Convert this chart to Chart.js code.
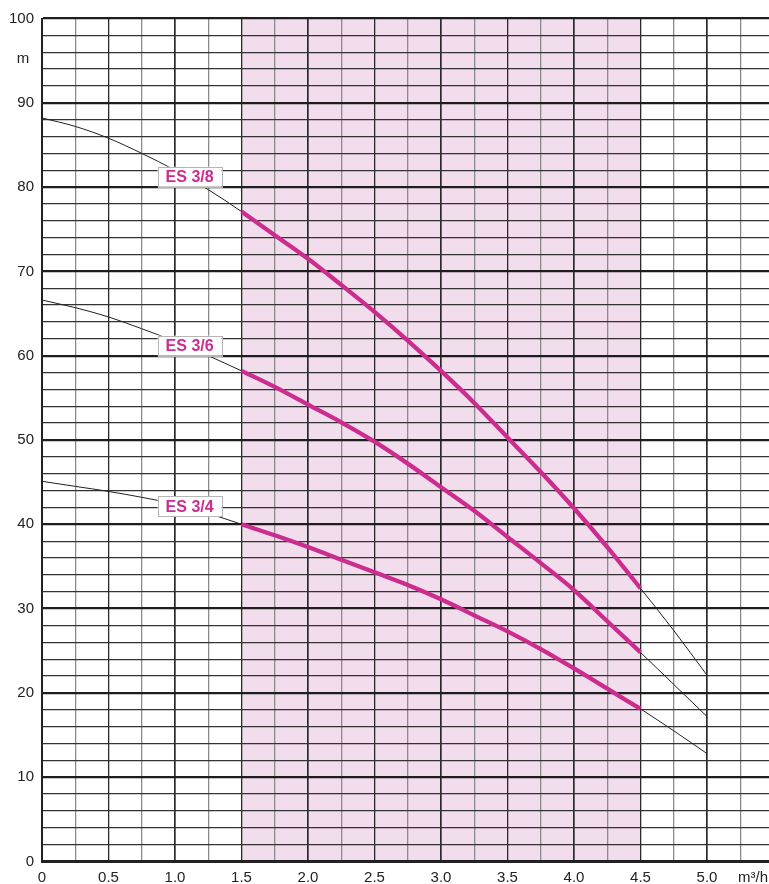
<!DOCTYPE html>
<html>
<head>
<meta charset="utf-8">
<script src="https://cdn.jsdelivr.net/npm/chart.js@4.4.1/dist/chart.umd.min.js"></script>
<style>
  html, body { margin: 0; padding: 0; background: #fff; }
  #wrap { width: 769px; height: 884px; position: relative; }
</style>
</head>
<body>
<div id="wrap"><canvas id="pumpChart"></canvas></div>
<script>
// flow (m3/h) and head (m)
const flowRates = [0, 0.25, 0.5, 0.75, 1.0, 1.25, 1.5, 1.75, 2.0, 2.25, 2.5, 2.75, 3.0, 3.25, 3.5, 3.75, 4.0, 4.25, 4.5, 4.75, 5.0];
const headES34 = [45.1, 44.5, 43.9, 43.2, 42.4, 41.3, 40.0, 38.7, 37.3, 35.8, 34.3, 32.8, 31.1, 29.2, 27.3, 25.2, 22.9, 20.5, 18.1, 15.5, 12.8];
const headES36 = [66.6, 65.7, 64.6, 63.2, 61.7, 60.0, 58.2, 56.3, 54.2, 52.1, 49.8, 47.2, 44.4, 41.6, 38.5, 35.4, 32.2, 28.5, 24.8, 21.0, 17.2];
const headES38 = [88.2, 87.2, 85.8, 84.0, 82.0, 79.7, 77.1, 74.3, 71.5, 68.4, 65.2, 61.8, 58.2, 54.4, 50.3, 46.2, 41.9, 37.3, 32.4, 27.4, 22.1];
const pumpNames = ['ES 3/4', 'ES 3/6', 'ES 3/8'];
const workingRange = [1.5, 4.5];
const xTickLabels = ['0', '0.5', '1.0', '1.5', '2.0', '2.5', '3.0', '3.5', '4.0', '4.5', '5.0'];
const yTickLabels = ['0', '10', '20', '30', '40', '50', '60', '70', '80', '90', '100'];
const yUnit = 'm';
const xUnit = 'm\u00b3/h';

const MAGENTA = '#cc2c8e';
const ZONE = '#f1ddec';
const INK = '#222';

const allHeads = [headES34, headES36, headES38];

function points(heads, lo, hi) {
    const pts = [];
    flowRates.forEach(function (q, i) {
        if (q >= lo - 1e-9 && q <= hi + 1e-9) pts.push({ x: q, y: heads[i] });
    });
    return pts;
}

function headAt(heads, q) {
    for (let i = 0; i < flowRates.length - 1; i++) {
        if (q >= flowRates[i] && q <= flowRates[i + 1]) {
            const t = (q - flowRates[i]) / (flowRates[i + 1] - flowRates[i]);
            return heads[i] + t * (heads[i + 1] - heads[i]);
        }
    }
    return heads[heads.length - 1];
}

const datasets = [];
allHeads.forEach(function (heads, i) {
    datasets.push({
        label: pumpNames[i] + ' range',
        data: points(heads, workingRange[0], workingRange[1]),
        borderColor: MAGENTA,
        borderWidth: 4.3,
        pointRadius: 0,
        cubicInterpolationMode: 'monotone',
        order: 0,
    });
    datasets.push({
        label: pumpNames[i],
        data: points(heads, flowRates[0], flowRates[flowRates.length - 1]),
        borderColor: INK,
        borderWidth: 1,
        pointRadius: 0,
        cubicInterpolationMode: 'monotone',
        order: 1,
    });
});

const zonePlugin = {
    id: 'zone',
    beforeDraw: function (chart) {
        const x = chart.scales.x;
        const a = chart.chartArea;
        const ctx = chart.ctx;
        ctx.save();
        ctx.fillStyle = ZONE;
        const x0 = x.getPixelForValue(workingRange[0]);
        const x1 = x.getPixelForValue(workingRange[1]);
        ctx.fillRect(x0, a.top, x1 - x0, a.bottom - a.top);
        ctx.restore();
    },
};

const labelPlugin = {
    id: 'pumpLabels',
    afterDatasetsDraw: function (chart) {
        const ctx = chart.ctx;
        const x = chart.scales.x;
        const y = chart.scales.y;
        ctx.save();
        ctx.font = 'bold 16px "Liberation Sans", Arial, sans-serif';
        ctx.textAlign = 'center';
        ctx.textBaseline = 'middle';
        allHeads.forEach(function (heads, i) {
            const q = 1.11;
            const cx = x.getPixelForValue(q);
            const cy = y.getPixelForValue(headAt(heads, q)) - 2;
            const w = 64, h = 20;
            ctx.fillStyle = '#fff';
            ctx.fillRect(cx - w / 2, cy - h / 2, w, h);
            ctx.strokeStyle = '#b5b5b5';
            ctx.lineWidth = 1;
            ctx.strokeRect(Math.round(cx - w / 2) + 0.5, Math.round(cy - h / 2) + 0.5, w, h);
            ctx.fillStyle = MAGENTA;
            ctx.fillText(pumpNames[i], cx, cy + 1);
        });
        ctx.restore();
    },
    afterDraw: function (chart) {
        const ctx = chart.ctx;
        const a = chart.chartArea;
        ctx.save();
        ctx.font = '15px "Liberation Sans", Arial, sans-serif';
        ctx.fillStyle = INK;
        ctx.textBaseline = 'middle';
        ctx.textAlign = 'center';
        ctx.fillText(yUnit, 23, chart.scales.y.getPixelForValue(95.2));
        ctx.textAlign = 'left';
        ctx.fillText(xUnit, 738, a.bottom + 16.5);
        ctx.restore();
    },
};

const xMax = 5.466;

new Chart(document.getElementById('pumpChart'), {
    type: 'line',
    data: { datasets: datasets },
    options: {
        responsive: true,
        maintainAspectRatio: false,
        animation: false,
        events: [],
        layout: { padding: { top: 18.5, right: 0, left: 0, bottom: 0 } },
        plugins: {
            legend: { display: false },
            tooltip: { enabled: false },
        },
        scales: {
            x: {
                type: 'linear',
                min: 0,
                max: xMax,
                afterFit: function (scale) { scale.height = 22.5; },
                border: { display: true, color: INK, width: 2 },
                grid: {
                    drawTicks: false,
                    color: function (c) {
                        const v = c.tick ? c.tick.value : 0;
                        return Math.abs(v * 2 - Math.round(v * 2)) < 1e-6 ? '#2a2a2a' : '#8c8c8c';
                    },
                    lineWidth: function (c) {
                        const v = c.tick ? c.tick.value : 0;
                        return Math.abs(v - Math.round(v)) < 1e-6 ? 1.7 : 1.3;
                    },
                },
                ticks: {
                    stepSize: 0.25,
                    includeBounds: false,
                    autoSkip: false,
                    maxRotation: 0,
                    padding: 7,
                    color: INK,
                    font: { family: '"Liberation Sans", Arial, sans-serif', size: 15 },
                    callback: function (v) {
                        const k = Math.round(v * 2);
                        if (Math.abs(v * 2 - k) > 1e-6) return '';
                        return xTickLabels[k] || '';
                    },
                },
            },
            y: {
                type: 'linear',
                min: 0,
                max: 100,
                afterFit: function (scale) { scale.width = 42; },
                border: { display: true, color: INK, width: 2 },
                grid: {
                    drawTicks: false,
                    color: function (c) {
                        const v = c.tick ? c.tick.value : 0;
                        return v % 10 === 0 ? '#1e1e1e' : '#333';
                    },
                    lineWidth: function (c) {
                        const v = c.tick ? c.tick.value : 0;
                        return v % 10 === 0 ? 2.2 : 1.3;
                    },
                },
                ticks: {
                    stepSize: 2,
                    autoSkip: false,
                    padding: 8,
                    color: INK,
                    font: { family: '"Liberation Sans", Arial, sans-serif', size: 15 },
                    callback: function (v) {
                        return v % 10 === 0 ? yTickLabels[v / 10] : '';
                    },
                },
            },
        },
    },
    plugins: [zonePlugin, labelPlugin],
});
</script>
</body>
</html>
